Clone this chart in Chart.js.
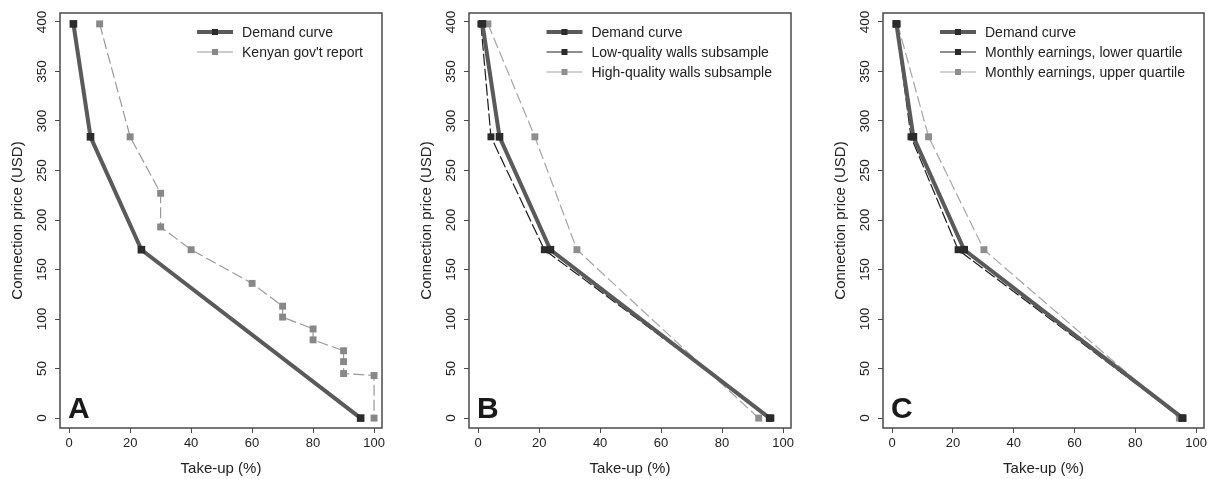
<!DOCTYPE html>
<html>
<head>
<meta charset="utf-8">
<script src="https://cdn.jsdelivr.net/npm/chart.js@4.4.1/dist/chart.umd.min.js"></script>
<style>
  body { margin: 0; background: #fff; }
  .wrap { position: relative; width: 1212px; height: 479px; }
  canvas { position: absolute; top: 0; }
</style>
</head>
<body>
<div class="wrap">
  <canvas id="chartA" width="400" height="479" style="left:0"></canvas>
  <canvas id="chartB" width="405" height="479" style="left:400px"></canvas>
  <canvas id="chartC" width="407" height="479" style="left:805px"></canvas>
</div>
<script>
// price levels offered (USD) and take-up (%)
const priceLevels = [398, 284, 170, 0];
const demandTakeup = [1.4, 7, 23.7, 95.6];

const kenyaTakeup = [10, 20, 30, 30, 40, 60, 70, 70, 80, 80, 90, 90, 90, 100, 100];
const kenyaPrice = [398, 284, 227, 193, 170, 136, 113, 102, 90, 79, 68, 57, 45, 43, 0];

const lowWallsTakeup = [0.9, 4.2, 21.7, 96];
const highWallsTakeup = [3.2, 18.6, 32.4, 92];

const lowEarnTakeup = [1.3, 6.2, 21.7, 95.3];
const highEarnTakeup = [1.8, 12, 30.2, 94.5];

const xTicks = [0, 20, 40, 60, 80, 100];
const yTicks = [0, 50, 100, 150, 200, 250, 300, 350, 400];

const FONT = 'Liberation Sans, Arial, Helvetica, sans-serif';
const INK = '#222';

const pts = (xs, ys) => xs.map((x, i) => ({ x: x, y: ys[i] }));

const demandSet = () => ({
  label: 'Demand curve',
  data: pts(demandTakeup, priceLevels),
  borderColor: '#5a5a5a',
  borderWidth: 4,
  pointStyle: 'rect',
  pointRadius: 5.4,
  pointBorderWidth: 0,
  pointBackgroundColor: '#2b2b2b'
});

const thinSet = (label, xs, ys, line, point, dash) => ({
  label: label,
  data: pts(xs, ys),
  borderColor: line,
  borderWidth: 1.2,
  borderDash: dash,
  pointStyle: 'rect',
  pointRadius: 4.9,
  pointBorderWidth: 0,
  pointBackgroundColor: point
});

// frame, panel letter and the legend (line + square + label)
const panelDecor = {
  id: 'panelDecor',
  afterDatasetsDraw(chart, args, opts) {
    const { ctx, chartArea: a } = chart;
    ctx.save();
    ctx.strokeStyle = '#4a4a4a';
    ctx.lineWidth = 1.5;
    ctx.strokeRect(a.left, a.top, a.right - a.left, a.bottom - a.top);

    ctx.fillStyle = '#1a1a1a';
    ctx.font = 'bold 30px ' + FONT;
    ctx.textBaseline = 'alphabetic';
    ctx.fillText(opts.letter, a.left + 8, chart.scales.y.getPixelForValue(0));

    ctx.font = '14px ' + FONT;
    const sets = chart.data.datasets;
    const textW = Math.max(...sets.map(d => ctx.measureText(d.label).width));
    const left = a.right - 19 - textW - 45;
    sets.forEach((d, i) => {
      const y = a.top + 19 + i * 20;
      ctx.beginPath();
      ctx.setLineDash([]);
      ctx.strokeStyle = d.borderColor;
      ctx.lineWidth = d.borderWidth;
      ctx.moveTo(left, y);
      ctx.lineTo(left + 36, y);
      ctx.stroke();
      ctx.fillStyle = d.pointBackgroundColor;
      ctx.fillRect(left + 15, y - 3, 6, 6);
      ctx.fillStyle = INK;
      ctx.textBaseline = 'middle';
      ctx.fillText(d.label, left + 45, y + 1);
    });
    ctx.restore();
  }
};

function makeChart(id, letter, datasets, padLeft, padRight) {
  return new Chart(document.getElementById(id), {
    type: 'line',
    data: { datasets: datasets },
    options: {
      responsive: false,
      animation: false,
      devicePixelRatio: 1,
      layout: { padding: { left: padLeft, right: padRight, top: 13, bottom: 0 } },
      elements: { line: { tension: 0 } },
      scales: {
        x: {
          type: 'linear',
          min: -3,
          max: 102.6,
          afterBuildTicks: s => { s.ticks = xTicks.map(v => ({ value: v })); },
          afterFit: s => { s.height = 51; },
          grid: { drawOnChartArea: false, color: '#4a4a4a', tickLength: 5, lineWidth: 1 },
          border: { display: false },
          ticks: { font: { size: 13, family: FONT }, color: INK, padding: 3, maxRotation: 0 },
          title: { display: true, text: 'Take-up (%)', font: { size: 15, family: FONT }, color: INK, padding: { top: 0, bottom: 1 } }
        },
        y: {
          min: -10,
          max: 409,
          afterBuildTicks: s => { s.ticks = yTicks.map(v => ({ value: v })); },
          afterFit: s => { s.width = 51; },
          grid: { drawOnChartArea: false, color: '#4a4a4a', tickLength: 5, lineWidth: 1 },
          border: { display: false },
          ticks: { font: { size: 13.5, family: FONT }, color: INK, padding: 1, minRotation: 90, maxRotation: 90, crossAlign: 'center' },
          title: { display: true, text: 'Connection price (USD)', font: { size: 15, family: FONT }, color: INK, padding: { top: 0, bottom: 0 } }
        }
      },
      plugins: {
        legend: { display: false },
        tooltip: { enabled: false },
        panelDecor: { letter: letter }
      }
    },
    plugins: [panelDecor]
  });
}

makeChart('chartA', 'A', [
  demandSet(),
  thinSet("Kenyan gov't report", kenyaTakeup, kenyaPrice, '#999', '#888', [11, 4])
], 9, 18);

makeChart('chartB', 'B', [
  demandSet(),
  thinSet('Low-quality walls subsample', lowWallsTakeup, priceLevels, '#1c1c1c', '#2a2a2a', [12, 3]),
  thinSet('High-quality walls subsample', highWallsTakeup, priceLevels, '#a6a6a6', '#8e8e8e', [11, 4])
], 18, 14);

makeChart('chartC', 'C', [
  demandSet(),
  thinSet('Monthly earnings, lower quartile', lowEarnTakeup, priceLevels, '#1c1c1c', '#2a2a2a', [12, 3]),
  thinSet('Monthly earnings, upper quartile', highEarnTakeup, priceLevels, '#a6a6a6', '#8e8e8e', [11, 4])
], 27, 8);
</script>
</body>
</html>
